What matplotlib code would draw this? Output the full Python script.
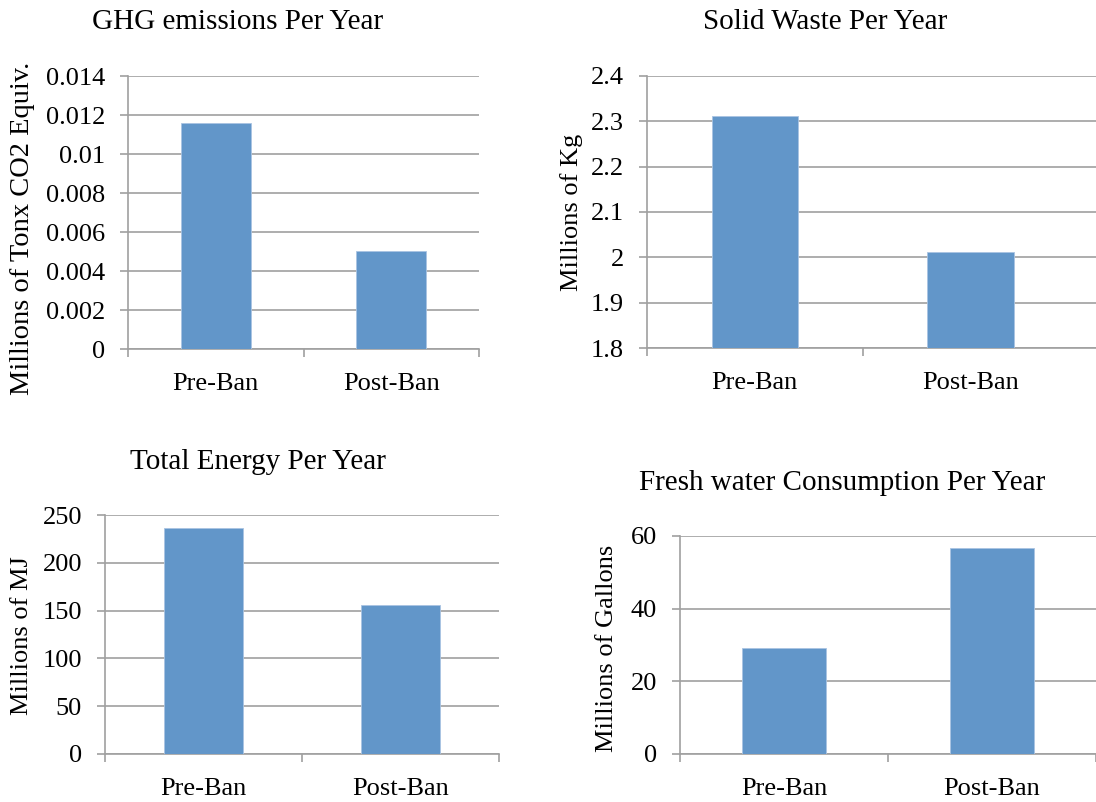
import numpy as np
import matplotlib
matplotlib.use("Agg")
import matplotlib.pyplot as plt
from matplotlib.ticker import FixedLocator, FuncFormatter

plt.rcParams['font.family'] = ['Liberation Serif', 'DejaVu Serif']

# Datos de cada panel
categorias = ["Pre-Ban", "Post-Ban"]

ghg_vals = [0.0116, 0.00505]
residuos_vals = [2.312, 2.011]
energia_vals = [236.7, 156.0]
agua_vals = [29.1, 56.8]

titulos = ["GHG emissions Per Year", "Solid Waste Per Year",
           "Total Energy Per Year", "Fresh water Consumption Per Year"]
ylabels = ["Millions of Tonx CO2 Equiv.", "Millions of Kg",
           "Millions of MJ", "Millions of Gallons"]

ghg_ticks = [0, 0.002, 0.004, 0.006, 0.008, 0.010, 0.012, 0.014]
residuos_ticks = [1.8, 1.9, 2.0, 2.1, 2.2, 2.3, 2.4]
energia_ticks = [0, 50, 100, 150, 200, 250]
agua_ticks = [0, 20, 40, 60]

W, H = 1096, 802
color_barra = "#6296C9"
color_gris = "#A0A0A0"

fig = plt.figure(figsize=(W / 100, H / 100), dpi=100)
fig.patch.set_facecolor("white")


def caja(izq, der, arriba, abajo):
    # Convierte una caja en pixeles a coordenadas de figura
    return [izq / W, 1 - abajo / H, (der - izq) / W, (abajo - arriba) / H]


# (caja del eje, ancho de categoria en px, posicion del titulo, posicion y tamaño de la etiqueta y)
paneles = [
    (ghg_vals, ghg_ticks, (128, 479, 76, 349), 175.5, (238, 22), (23, 228, 20.5)),
    (residuos_vals, residuos_ticks, (647, 1096, 76, 348), 215.6, (825, 22), (572, 212, 19)),
    (energia_vals, energia_ticks, (105, 499, 515, 754), 197.0, (258, 462), (22, 636, 19)),
    (agua_vals, agua_ticks, (680, 1096, 536, 754), 211.0, (842, 483), (607, 648, 19)),
]

for i, (vals, ticks, box, cat_px, pos_tit, pos_lab) in enumerate(paneles):
    izq, der, arriba, abajo = box
    ax = fig.add_axes(caja(izq, der, arriba, abajo))
    x = np.arange(len(categorias))
    base = ticks[0]
    ax.bar(x, np.array(vals) - base, bottom=base, width=0.4, color=color_barra,
           edgecolor="#A9C4E2", linewidth=0.6, zorder=3)

    ax.set_ylim(ticks[0], ticks[-1])
    ax.set_xlim(-0.5, -0.5 + (der - izq) / cat_px)
    ax.yaxis.set_major_locator(FixedLocator(ticks))
    ax.yaxis.set_major_formatter(FuncFormatter(lambda v, p: f"{round(v, 6):g}"))
    ax.grid(axis="y", color=color_gris, linewidth=1.2, zorder=0)
    ax.set_axisbelow(True)

    # categorias centradas y marcas en los limites entre categorias
    ax.set_xticks(x)
    ax.set_xticklabels(categorias)
    limites = [-0.5, 0.5, 1.5] if der - izq < 2 * cat_px + 5 else [-0.5, 0.5]
    ax.set_xticks(limites, minor=True)
    ax.tick_params(axis="x", which="major", length=0, pad=17, labelsize=19)
    ax.tick_params(axis="x", which="minor", length=5.5, width=1.2, color=color_gris)
    ax.tick_params(axis="y", length=5.5, width=1.2, color=color_gris, pad=11, labelsize=19)

    for lado in ["top", "right"]:
        ax.spines[lado].set_visible(False)
    for lado in ["left", "bottom"]:
        ax.spines[lado].set_color(color_gris)
        ax.spines[lado].set_linewidth(1.2)

    fig.text(pos_tit[0] / W, 1 - pos_tit[1] / H, titulos[i], ha="center", va="center",
             fontsize=21)
    fig.text(pos_lab[0] / W, 1 - pos_lab[1] / H, ylabels[i], ha="center", va="center",
             rotation=90, fontsize=pos_lab[2])

fig.savefig("out.png", dpi=100, facecolor="white")
